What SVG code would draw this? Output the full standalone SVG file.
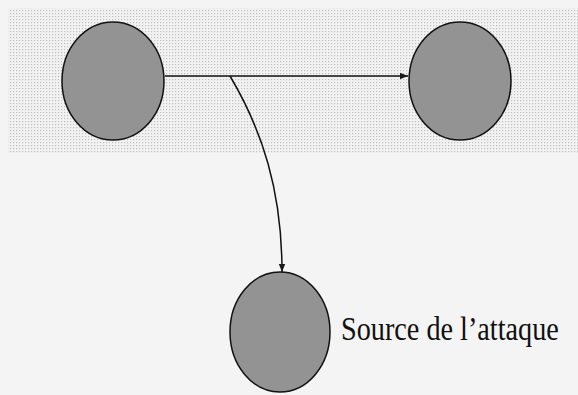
<svg xmlns="http://www.w3.org/2000/svg" width="578" height="395" viewBox="0 0 578 395">
  <defs>
    <pattern id="dots" width="3" height="3" patternUnits="userSpaceOnUse">
      <rect width="3" height="3" fill="#f2f2f2"/>
      <rect x="1" y="1" width="1.2" height="1.2" fill="#c0c0c0"/>
    </pattern>
    <marker id="arrow" viewBox="0 0 10 10" refX="10" refY="5" markerWidth="12" markerHeight="8" markerUnits="userSpaceOnUse" orient="auto">
      <path d="M0,1 L10,5 L0,9 Z" fill="#1a1a1a"/>
    </marker>
    <style>
      .node { fill: #939393; stroke: #111; stroke-width: 1.5; }
      .edge { fill: none; stroke: #111; stroke-width: 1.5; marker-end: url(#arrow); }
      .label { font-family: "Liberation Serif", "Times New Roman", serif; font-size: 34px; fill: #111; }
    </style>
  </defs>

  <!-- backdrop: light paper with a dotted band behind the top row -->
  <rect x="0" y="0" width="578" height="395" fill="#f4f4f4"/>
  <rect x="8" y="8" width="570" height="145" fill="url(#dots)"/>

  <g id="connectors">
    <path class="edge" d="M165,76 L408,76"/>
    <path class="edge" d="M230,76 C262,130 282,190 282,272"/>
  </g>

  <g id="node-left">
    <ellipse class="node" cx="113" cy="81" rx="51" ry="59"/>
  </g>
  <g id="node-right">
    <ellipse class="node" cx="460" cy="81" rx="51" ry="59"/>
  </g>
  <g id="node-source">
    <ellipse class="node" cx="280" cy="332" rx="50" ry="60"/>
    <!-- condensed serif label -->
    <text class="label" transform="translate(341,340) scale(0.83,1)">Source de l’attaque</text>
  </g>
</svg>
